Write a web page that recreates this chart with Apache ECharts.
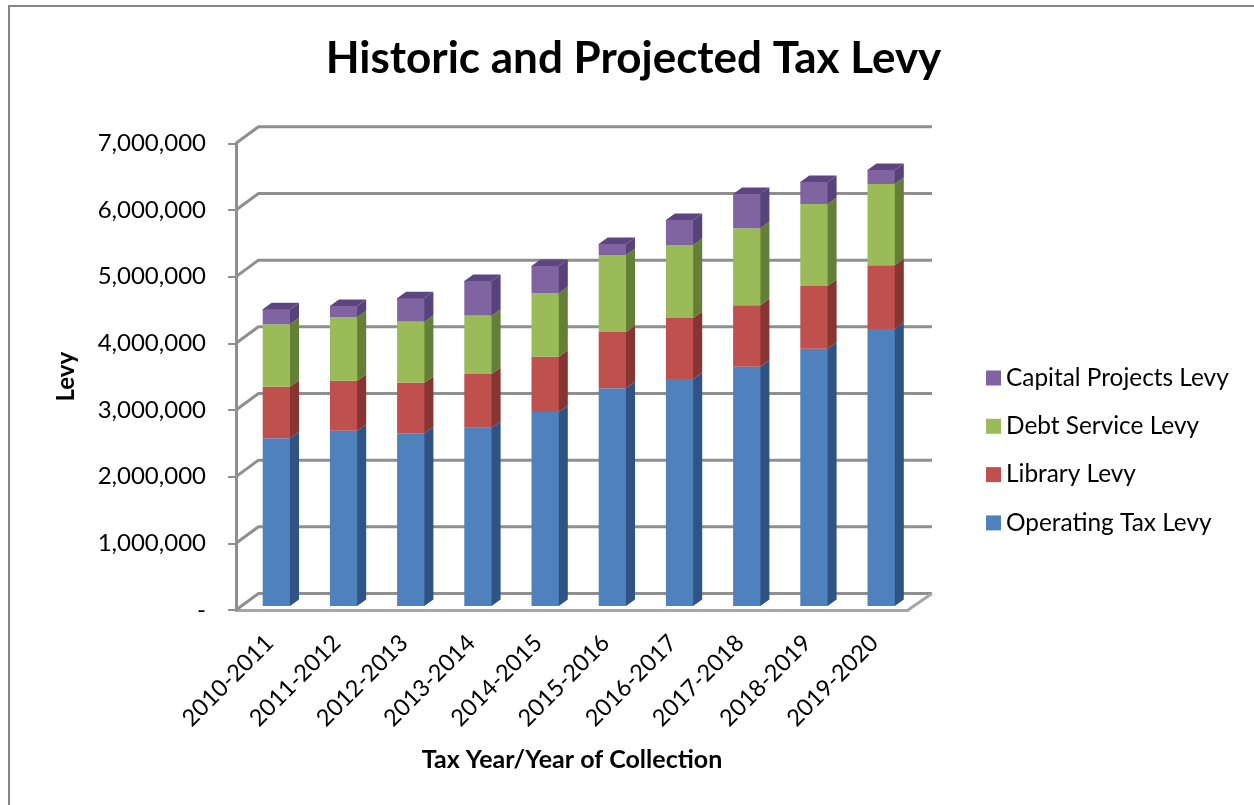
<!DOCTYPE html>
<html>
<head>
<meta charset="utf-8">
<title>Historic and Projected Tax Levy</title>
<script src="https://cdn.jsdelivr.net/npm/echarts@6/dist/echarts.min.js"></script>
<style>
  html, body { margin: 0; padding: 0; background: #fff; }
  #chart { width: 1254px; height: 805px; }
</style>
</head>
<body>
<div id="chart"></div>
<script>
// Levy amounts by collection year, in dollars.
const years = ['2010-2011', '2011-2012', '2012-2013', '2013-2014', '2014-2015',
               '2015-2016', '2016-2017', '2017-2018', '2018-2019', '2019-2020'];
const operatingLevy = [2515000, 2630000, 2590000, 2675000, 2910000, 3265000, 3405000, 3590000, 3860000, 4155000];
const libraryLevy   = [775000, 750000, 760000, 805000, 830000, 845000, 915000, 920000, 940000, 955000];
const debtLevy      = [935000, 950000, 915000, 875000, 950000, 1155000, 1095000, 1155000, 1230000, 1220000];
const capitalLevy   = [225000, 170000, 350000, 520000, 410000, 165000, 375000, 515000, 330000, 210000];
const axisLevels    = [0, 1000000, 2000000, 3000000, 4000000, 5000000, 6000000, 7000000];

const FONT = 'Lato, "Open Sans", sans-serif';
const LINE = '#8f8f8f';

// Oblique offset of the back wall from the front plane.
const WALL_DX = 22.5, WALL_DY = -16.5;
// Placement of a column inside its category band.
const BAR_WIDTH = 27.3, BAR_DX = -6.9, BAR_DY = -4, DEPTH_DX = 9, DEPTH_DY = -6.5;

const layers = [
  { name: 'Operating Tax Levy', values: operatingLevy, front: '#4f81bd', side: '#2f5483', top: '#3a6597' },
  { name: 'Library Levy',       values: libraryLevy,   front: '#c0504d', side: '#863533', top: '#9a3f3c' },
  { name: 'Debt Service Levy',  values: debtLevy,      front: '#9bbb59', side: '#647f37', top: '#7d9a45' },
  { name: 'Capital Projects Levy', values: capitalLevy, front: '#8064a2', side: '#57427a', top: '#5c4680' }
];

// Back wall and floor: each level runs from the front axis to the wall, then across it.
function renderWall(params, api) {
  const level = api.value(1);
  const cs = params.coordSys;
  const y = api.coord([0, level])[1];
  const shape = { points: [[cs.x, y], [cs.x + WALL_DX, y + WALL_DY], [cs.x + cs.width + WALL_DX + 1.5, y + WALL_DY]] };
  const children = [{
    type: 'polyline', shape: shape,
    style: { stroke: LINE, lineWidth: 3, fill: null, lineJoin: 'round' }
  }];
  if (level === 0) {
    children.push({
      type: 'line',
      shape: { x1: cs.x + cs.width, y1: y, x2: cs.x + cs.width + WALL_DX + 1.5, y2: y + WALL_DY },
      style: { stroke: '#a6a6a6', lineWidth: 3 }
    });
  }
  return { type: 'group', children: children };
}

// One stacked segment of a column: front face, right side and, on the top layer, a lid.
function makeSegmentRenderer(layer, isTop) {
  return function (params, api) {
    const lo = api.coord([api.value(0), api.value(1)]);
    const hi = api.coord([api.value(0), api.value(2)]);
    const x0 = lo[0] + BAR_DX;
    const x1 = x0 + BAR_WIDTH;
    const yLo = lo[1] + BAR_DY;
    const yHi = hi[1] + BAR_DY;
    const children = [
      {
        type: 'polygon',
        shape: { points: [[x1 - 1, yLo], [x1, yLo], [x1 + DEPTH_DX, yLo + DEPTH_DY], [x1 + DEPTH_DX, yHi + DEPTH_DY], [x1, yHi], [x1 - 1, yHi]] },
        style: { fill: layer.side }
      }
    ];
    if (isTop) {
      children.push({
        type: 'polygon',
        shape: { points: [[x0, yHi + 1], [x0, yHi], [x0 + DEPTH_DX, yHi + DEPTH_DY], [x1 + DEPTH_DX, yHi + DEPTH_DY], [x1, yHi], [x1, yHi + 1]] },
        style: { fill: layer.top }
      });
    }
    children.push({
      type: 'rect',
      shape: { x: x0, y: yHi, width: BAR_WIDTH, height: yLo - yHi },
      style: { fill: layer.front }
    });
    return { type: 'group', children: children };
  };
}

const running = years.map(() => 0);
const segmentSeries = layers.map((layer, k) => ({
  type: 'custom',
  name: layer.name,
  itemStyle: { color: layer.front },
  renderItem: makeSegmentRenderer(layer, k === layers.length - 1),
  encode: { x: 0, y: 2 },
  z: 3 + k,
  data: layer.values.map((v, i) => {
    const base = running[i];
    running[i] = base + v;
    return [i, base, running[i]];
  })
}));

const chart = echarts.init(document.getElementById('chart'), null, { renderer: 'canvas' });
chart.setOption({
  animation: false,
  backgroundColor: '#ffffff',
  textStyle: { fontFamily: FONT, color: '#000' },
  title: {
    text: 'Historic and Projected Tax Levy',
    left: 628.5, top: 32, textAlign: 'center',
    textStyle: { fontFamily: FONT, fontSize: 44, fontWeight: 'bold', color: '#000' }
  },
  legend: {
    orient: 'vertical',
    left: 981, top: 360,
    icon: 'rect',
    itemWidth: 15, itemHeight: 15, itemGap: 22.3,
    selectedMode: false,
    data: ['Capital Projects Levy', 'Debt Service Levy', 'Library Levy', 'Operating Tax Levy'],
    textStyle: { fontFamily: FONT, fontSize: 24.4, color: '#000', lineHeight: 26 }
  },
  grid: { left: 236, right: 346, top: 143.3, bottom: 195, containLabel: false },
  xAxis: {
    type: 'category',
    data: years,
    name: 'Tax Year/Year of Collection',
    nameLocation: 'middle',
    nameGap: 137,
    nameTextStyle: { fontFamily: FONT, fontSize: 25, fontWeight: 'bold', color: '#000' },
    axisLine: { lineStyle: { color: '#a6a6a6', width: 3 } },
    axisTick: { length: 8, lineStyle: { color: LINE, width: 2 } },
    axisLabel: { rotate: 45, margin: 29, interval: 0, fontFamily: FONT, fontSize: 23.5, color: '#000' }
  },
  yAxis: {
    type: 'value',
    min: 0, max: 7000000, interval: 1000000,
    name: 'Levy',
    nameLocation: 'middle',
    nameRotate: 90,
    nameGap: 158,
    nameTextStyle: { fontFamily: FONT, fontSize: 24, fontWeight: 'bold', color: '#000' },
    axisLine: { show: true, lineStyle: { color: LINE, width: 3 } },
    axisTick: { show: true, length: 8, lineStyle: { color: LINE, width: 2 } },
    splitLine: { show: false },
    axisLabel: {
      margin: 30, fontFamily: FONT, fontSize: 24, color: '#000',
      formatter: v => v === 0 ? '-' : v.toLocaleString('en-US')
    }
  },
  graphic: [
    { type: 'line', silent: true, shape: { x1: 9, y1: 6, x2: 1254, y2: 6 }, style: { stroke: '#868686', lineWidth: 2 } },
    { type: 'line', silent: true, shape: { x1: 9, y1: 5, x2: 9, y2: 805 }, style: { stroke: '#868686', lineWidth: 2 } }
  ],
  series: [
    {
      type: 'custom',
      name: 'Wall',
      renderItem: renderWall,
      encode: { y: 1 },
      z: 1,
      silent: true,
      data: axisLevels.map(v => [0, v])
    }
  ].concat(segmentSeries)
});
</script>
</body>
</html>
